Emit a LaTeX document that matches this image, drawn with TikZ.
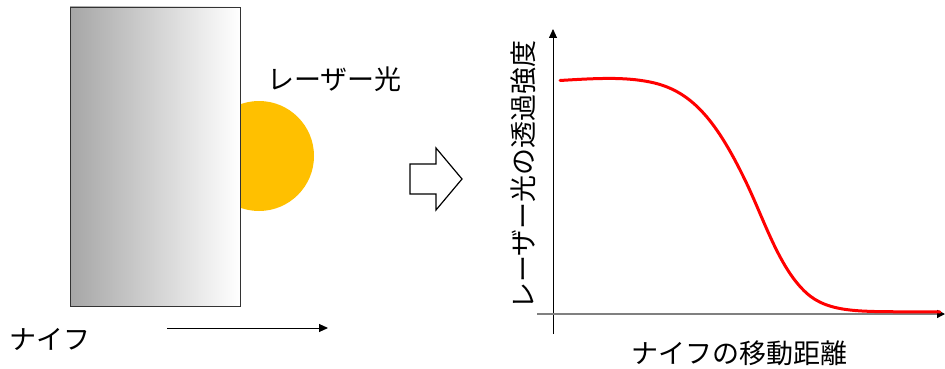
\documentclass[tikz,border=0pt]{standalone}
\usepackage{fontspec}
\setmainfont{Noto Sans CJK JP}
\usetikzlibrary{arrows.meta}
\definecolor{laser}{HTML}{FFC000}
\definecolor{knifegray}{HTML}{A6A6A6}
\tikzset{
  lbl/.style={inner sep=0pt, font=\fontsize{27}{27}\selectfont},
  arr/.style={-{Triangle[length=9pt,width=8pt]}, line width=1pt},
}
\begin{document}
\begin{tikzpicture}[x=1pt,y=-1pt]
\useasboundingbox (0,0) rectangle (945,369);
% laser spot
\fill[laser] (259,156) circle (55);
% knife
\path[left color=knifegray, right color=white] (70,7) rectangle (240,306);
\draw[line width=0.8pt, black!80] (70,7) rectangle (240,306);
\node[lbl, anchor=west] (laserlbl) at (267,79) {レーザー光};
\node[lbl, anchor=west] (knifelbl) at (9,339) {ナイフ};
\coordinate (m0) at (167,328);
\coordinate (m1) at (328,328);
\draw[arr] (m0) -- (m1);
% hollow arrow
\draw[line width=1.2pt, line join=miter] (410,164) -- (436,164) -- (436,148) -- (462,179) -- (436,210) -- (436,194) -- (410,194) -- cycle;
% axes
\coordinate (ytop) at (553,29);
\coordinate (ybot) at (553,334);
\coordinate (xl) at (537,314);
\coordinate (xr) at (945,314);
\draw[arr, line width=0.9pt] (ybot) -- (ytop);
\draw[line width=1.3pt, gray, -{Triangle[length=8pt,width=8pt,black]}] (xl) -- (xr);
% curve
\draw[red, line width=3pt, line cap=round]
  (560,80.5) .. controls (600,78) and (625,77) .. (650,82)
  .. controls (690,90) and (715,118) .. (745,180)
  .. controls (765,221) and (780,272) .. (810,296)
  .. controls (835,315) and (870,311) .. (940,312);
\node[lbl, rotate=90] (ylbl) at (523,175) {レーザー光の透過強度};
\node[lbl] (xlbl) at (739,353) {ナイフの移動距離};
\end{tikzpicture}
\end{document}
